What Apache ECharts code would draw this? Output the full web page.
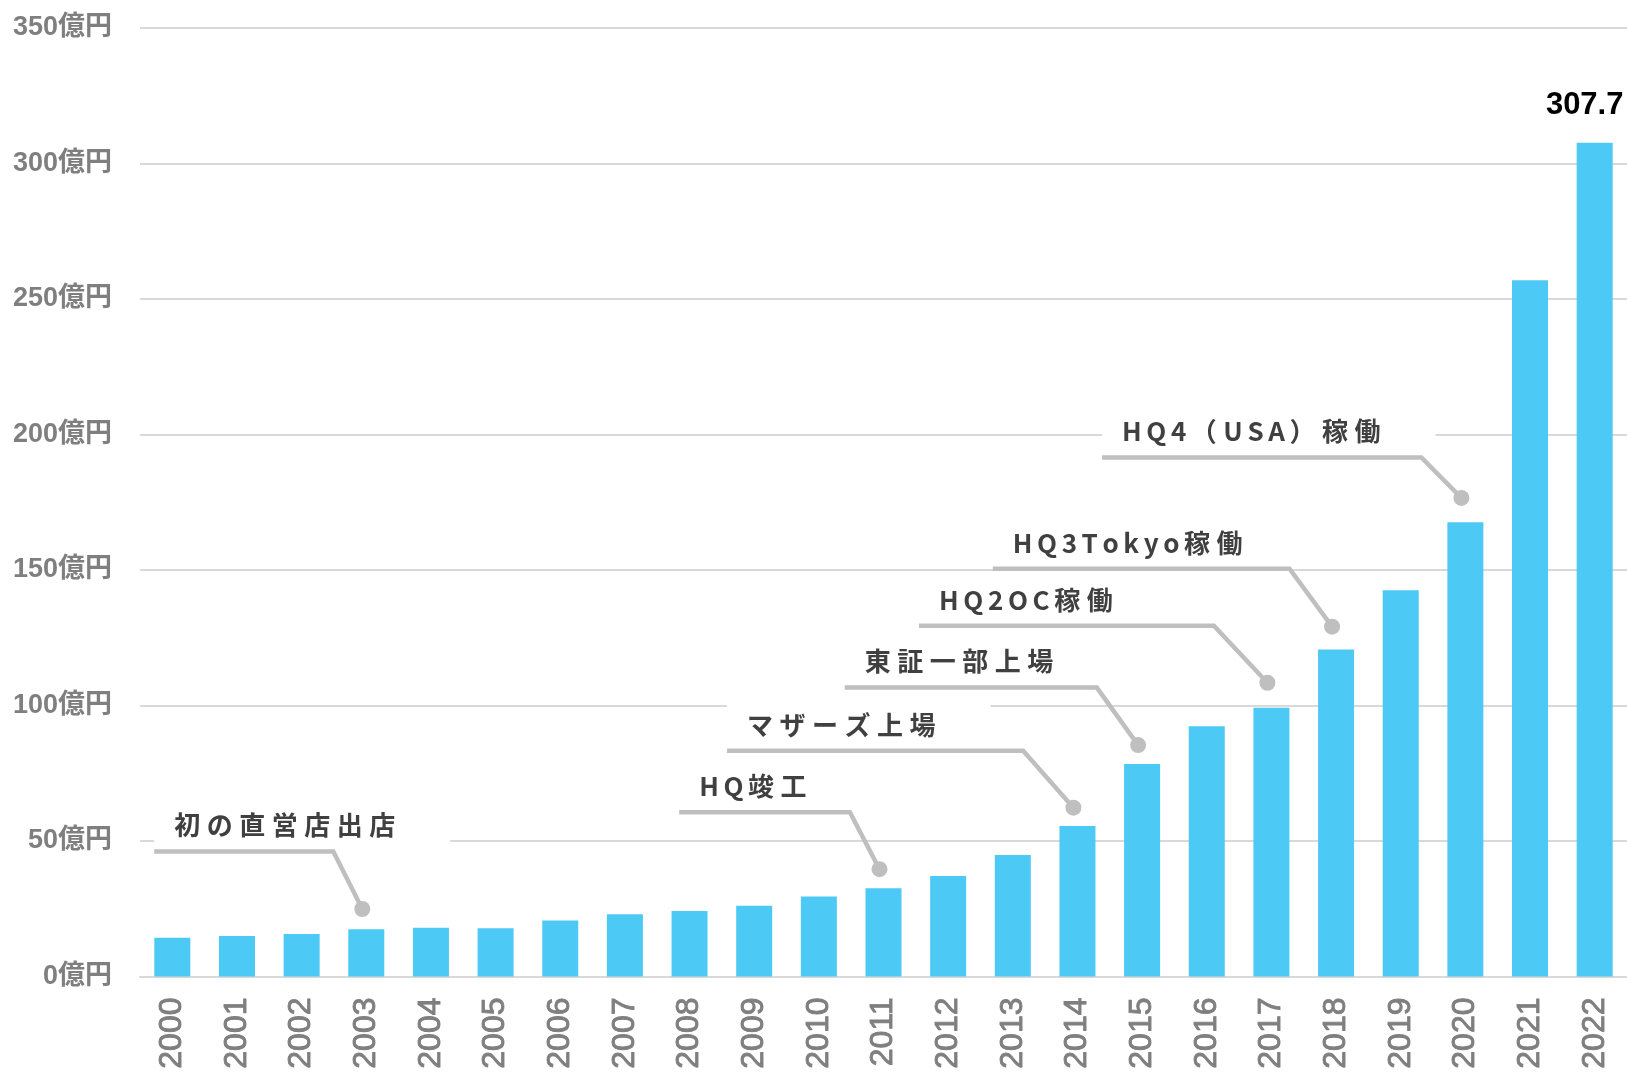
<!DOCTYPE html>
<html><head><meta charset="utf-8">
<script src="https://cdn.jsdelivr.net/npm/echarts@6/dist/echarts.min.js"></script>
<style>html,body{margin:0;padding:0;background:#fff}#c{width:1627px;height:1075px}</style>
</head><body><div id="c"></div>
<script>
// ---- data ----
const years = ['2000','2001','2002','2003','2004','2005','2006','2007','2008','2009','2010','2011','2012','2013','2014','2015','2016','2017','2018','2019','2020','2021','2022'];
const sales = [14.3,14.9,15.7,17.4,18.0,17.8,20.7,23.0,24.2,26.1,29.5,32.6,37.1,44.8,55.5,78.4,92.3,99.2,120.7,142.5,167.6,256.9,307.7];
const yUnit = '億円';
const yMax = 350, yStep = 50;

// annotations (dot at a year's bar, leader line at a value, line start/bend in category units)
const noteLabels = ['初の直営店出店','HQ竣工','マザーズ上場','東証一部上場','HQ2OC稼働','HQ3Tokyo稼働','HQ4（USA）稼働'];
const noteYears = ['2003','2011','2014','2015','2017','2018','2020'];
const noteDotValues = [24.9, 39.6, 62.3, 85.4, 108.4, 129.1, 176.6];
const noteLineValues = [46.1, 60.6, 83.3, 106.6, 129.4, 150.5, 191.5];
const noteLineStarts = [-0.28, 7.84, 8.58, 10.40, 11.55, 12.69, 14.38];
const noteBends = [2.49, 10.48, 13.16, 14.30, 16.11, 17.28, 19.32];

const chart = echarts.init(document.getElementById('c'));
const latin = '"Liberation Sans", Arial, "Noto Sans CJK JP", sans-serif';
chart.setOption({
  animation: false,
  grid: {left: 140, right: 0, top: 28, bottom: 98.5, containLabel: false},
  xAxis: {
    type: 'category', data: years,
    axisLine: {show: true, lineStyle: {color: '#d9d9d9', width: 2}},
    axisTick: {show: false},
    axisLabel: {rotate: 90, margin: 21, fontSize: 32, color: '#7f7f7f', fontFamily: latin, interval: 0,
      textBorderColor: '#7f7f7f', textBorderWidth: 0.9}
  },
  yAxis: {
    type: 'value', min: 0, max: yMax, interval: yStep,
    axisLine: {show: false}, axisTick: {show: false},
    splitLine: {lineStyle: {color: '#d9d9d9', width: 2}},
    axisLabel: {formatter: v => v + yUnit, fontSize: 27, fontWeight: 'bold', color: '#7f7f7f', margin: 28, fontFamily: latin}
  },
  series: [{
    type: 'bar', data: sales, barWidth: 36,
    itemStyle: {color: '#4cc9f4'},
    label: {
      show: true, position: 'top', distance: 22, offset: [-10, 0],
      fontSize: 31, fontWeight: 'bold', color: '#000', fontFamily: latin,
      formatter: p => p.dataIndex === sales.length - 1 ? String(p.value) : ''
    }
  }]
});

// build annotations through the axes' own scales
const px0 = chart.convertToPixel({xAxisIndex: 0}, years[0]);
const px1 = chart.convertToPixel({xAxisIndex: 0}, years[1]);
const step = px1 - px0;
const xAt = i => px0 + i * step;
const yAt = v => chart.convertToPixel({yAxisIndex: 0}, v);
const noteFont = 'bold 26px "Noto Sans CJK JP", sans-serif';
const ctx = document.createElement('canvas').getContext('2d');
ctx.font = noteFont;
const spacingWide = 6.5, spacingLatin = 4.6;
const graphics = [];
noteLabels.forEach((label, k) => {
  const xs = xAt(noteLineStarts[k]);
  const xb = xAt(noteBends[k]);
  const xd = chart.convertToPixel({xAxisIndex: 0}, noteYears[k]) - 4;
  const ly = yAt(noteLineValues[k]);
  const dy = yAt(noteDotValues[k]);
  const ty = ly - 26;
  const tx = xs + 20;
  const chars = Array.from(label);
  let x = tx, lastGap = 0;
  const texts = [];
  chars.forEach(ch => {
    texts.push({type: 'text', z: 12, style: {text: ch, x: x, y: ty, font: noteFont, fill: '#404040', textVerticalAlign: 'middle', verticalAlign: 'middle', textAlign: 'left', align: 'left'}});
    lastGap = /[\x20-\x7e]/.test(ch) ? spacingLatin : spacingWide;
    x += ctx.measureText(ch).width + lastGap;
  });
  const textEnd = x - lastGap;
  graphics.push({type: 'rect', z: 10, shape: {x: xs, y: ty - 21, width: textEnd + 55 - xs, height: 42}, style: {fill: '#fff'}});
  graphics.push({type: 'polyline', z: 11, shape: {points: [[xs, ly], [xb, ly], [xd, dy]]}, style: {stroke: '#bfbfbf', lineWidth: 4.5, fill: null}});
  graphics.push({type: 'circle', z: 11, shape: {cx: xd, cy: dy, r: 8}, style: {fill: '#bfbfbf'}});
  graphics.push(...texts);
});
chart.setOption({graphic: graphics});
</script>
</body></html>
